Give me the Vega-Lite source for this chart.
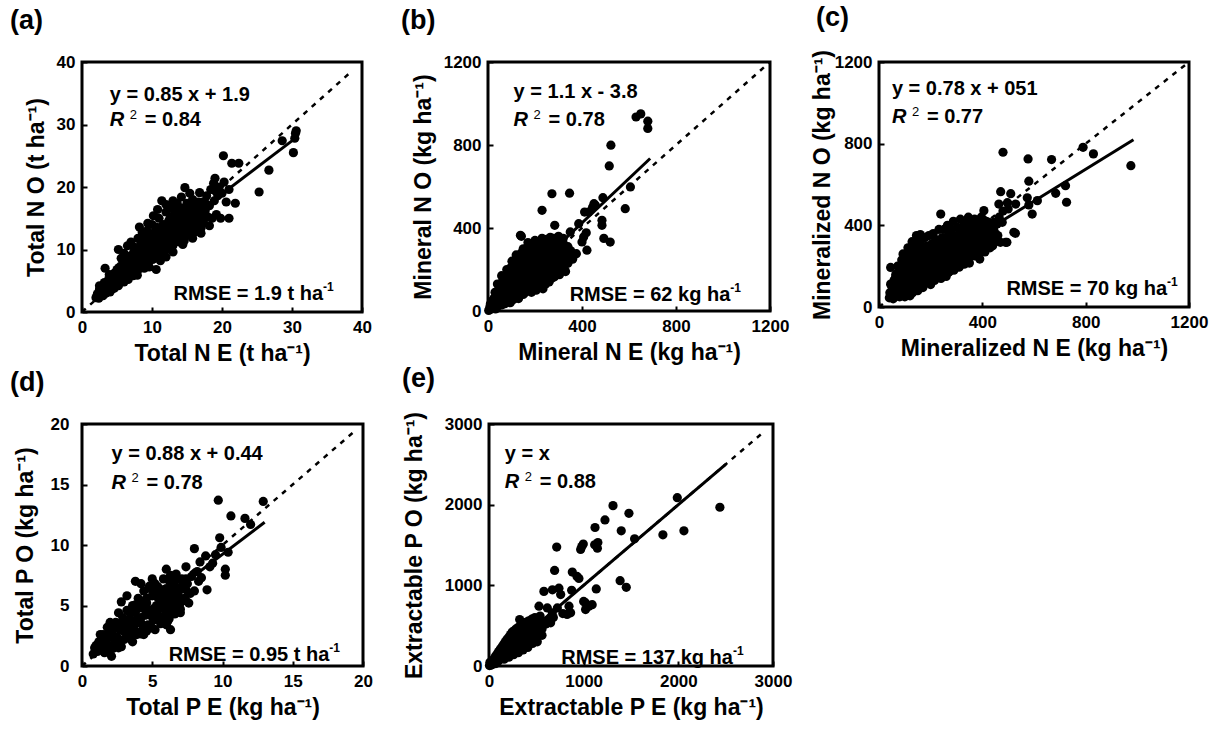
{
"$schema": "https://vega.github.io/schema/vega-lite/v6.json",
"background": "white",
"padding": {"left": 8, "top": 2, "right": 5, "bottom": 5},
"bounds": "flush",
"spacing": 362,
"config": {
  "font": "Liberation Sans",
  "view": {"stroke": "black", "strokeWidth": 3},
  "axis": {"domain": false, "grid": false, "ticks": true, "tickColor": "black", "tickWidth": 2, "tickSize": -5, "labelFont": "Liberation Sans", "labelFontSize": 17, "labelFontWeight": "bold", "labelColor": "black", "labelFlush": false, "labelOverlap": false, "labelPadding": 12, "format": "d", "titleFont": "Liberation Sans", "titleFontSize": 23, "titleFontWeight": "bold", "titleColor": "black"},
  "axisX": {"titlePadding": 7},
  "axisY": {"titlePadding": 8},
  "title": {"font": "Liberation Sans", "fontSize": 27, "fontWeight": "bold", "color": "black", "anchor": "start", "frame": "group", "offset": 18},
  "text": {"font": "Liberation Sans", "fontSize": 20, "fontWeight": "bold", "color": "black"}
},
"datasets": {
  "a": [
{"x":2.0,"y":2.3},{"x":2.2,"y":2.9},{"x":2.4,"y":2.2},{"x":2.5,"y":3.6},{"x":2.8,"y":2.8},{"x":2.9,"y":4.2},{"x":3.0,"y":3.3},{"x":3.2,"y":3.9},{"x":3.3,"y":7.0},{"x":3.5,"y":4.6},{"x":3.6,"y":3.2},{"x":3.8,"y":5.2},{"x":4.0,"y":4.0},{"x":4.2,"y":5.6},{"x":4.3,"y":3.7},{"x":4.5,"y":4.8},{"x":4.6,"y":6.2},{"x":4.8,"y":4.4},{"x":5.0,"y":5.4},{"x":5.0,"y":6.8},{"x":5.2,"y":10.0},{"x":5.3,"y":4.6},{"x":5.5,"y":6.0},{"x":5.6,"y":7.4},{"x":5.8,"y":5.2},{"x":6.0,"y":6.4},{"x":6.1,"y":8.2},{"x":6.3,"y":5.6},{"x":6.4,"y":7.2},{"x":6.5,"y":10.6},{"x":6.6,"y":8.8},{"x":6.8,"y":6.0},{"x":7.0,"y":11.2},{"x":7.0,"y":7.8},{"x":7.1,"y":6.6},{"x":7.3,"y":9.2},{"x":7.5,"y":7.0},{"x":7.6,"y":8.4},{"x":7.8,"y":10.0},{"x":7.9,"y":5.9},{"x":8.0,"y":7.4},{"x":8.2,"y":13.6},{"x":8.3,"y":9.0},{"x":8.4,"y":11.0},{"x":8.5,"y":8.0},{"x":8.7,"y":10.0},{"x":8.8,"y":12.0},{"x":8.9,"y":7.0},{"x":9.0,"y":9.0},{"x":9.2,"y":11.0},{"x":9.3,"y":13.0},{"x":9.4,"y":8.0},{"x":9.6,"y":10.0},{"x":9.7,"y":12.2},{"x":9.8,"y":9.0},{"x":10.0,"y":14.0},{"x":10.0,"y":11.0},{"x":10.1,"y":8.4},{"x":10.3,"y":12.6},{"x":10.4,"y":9.8},{"x":10.6,"y":6.8},{"x":10.6,"y":13.6},{"x":10.7,"y":11.4},{"x":10.9,"y":8.8},{"x":11.0,"y":15.0},{"x":11.1,"y":10.2},{"x":11.2,"y":12.4},{"x":11.4,"y":17.8},{"x":11.5,"y":9.6},{"x":11.6,"y":14.0},{"x":11.7,"y":11.2},{"x":11.9,"y":13.0},{"x":12.0,"y":16.0},{"x":12.1,"y":10.0},{"x":12.2,"y":12.0},{"x":12.4,"y":14.6},{"x":12.5,"y":11.0},{"x":12.7,"y":13.2},{"x":12.8,"y":16.6},{"x":12.9,"y":10.6},{"x":13.0,"y":12.2},{"x":13.2,"y":15.2},{"x":13.3,"y":13.8},{"x":13.4,"y":11.4},{"x":13.6,"y":17.4},{"x":13.7,"y":12.6},{"x":13.9,"y":15.0},{"x":14.0,"y":11.2},{"x":14.1,"y":14.2},{"x":14.2,"y":16.4},{"x":14.4,"y":10.8},{"x":14.5,"y":13.0},{"x":14.7,"y":19.9},{"x":14.8,"y":15.6},{"x":14.9,"y":12.2},{"x":15.0,"y":17.4},{"x":15.2,"y":14.2},{"x":15.3,"y":12.6},{"x":15.5,"y":16.2},{"x":15.6,"y":13.4},{"x":15.8,"y":18.0},{"x":16.0,"y":15.0},{"x":16.1,"y":12.8},{"x":16.3,"y":16.8},{"x":16.5,"y":14.0},{"x":16.8,"y":19.1},{"x":16.9,"y":15.6},{"x":17.0,"y":13.4},{"x":17.2,"y":17.6},{"x":17.4,"y":14.8},{"x":17.6,"y":16.2},{"x":17.8,"y":18.6},{"x":18.0,"y":15.2},{"x":18.2,"y":17.0},{"x":18.4,"y":19.6},{"x":18.6,"y":15.0},{"x":18.8,"y":20.6},{"x":18.9,"y":17.8},{"x":19.0,"y":21.4},{"x":19.2,"y":15.6},{"x":19.4,"y":18.6},{"x":19.6,"y":20.0},{"x":19.8,"y":15.0},{"x":20.0,"y":19.0},{"x":20.2,"y":25.0},{"x":20.3,"y":20.8},{"x":20.6,"y":17.6},{"x":21.0,"y":15.0},{"x":21.0,"y":19.6},{"x":21.4,"y":23.8},{"x":21.9,"y":17.4},{"x":22.4,"y":23.8},{"x":25.3,"y":19.2},{"x":26.7,"y":22.7},{"x":28.6,"y":27.4},{"x":30.2,"y":25.5},{"x":30.4,"y":27.8},{"x":30.5,"y":28.6},{"x":30.6,"y":29.0},
{"x":3.0,"y":2.6},{"x":3.4,"y":3.0},{"x":4.0,"y":3.2},{"x":4.6,"y":3.8},{"x":5.2,"y":4.2},{"x":6.0,"y":4.8},{"x":6.6,"y":5.2},{"x":7.3,"y":5.8},{"x":5.6,"y":8.6},{"x":6.0,"y":9.4},{"x":7.4,"y":10.4},{"x":8.0,"y":11.8},{"x":8.6,"y":12.8},{"x":9.4,"y":14.2},{"x":10.2,"y":15.4},{"x":10.8,"y":16.4},{"x":12.0,"y":17.2},{"x":13.0,"y":17.8},{"x":14.2,"y":18.4},{"x":15.4,"y":19.0},{"x":9.6,"y":7.2},{"x":11.2,"y":8.2},{"x":12.0,"y":8.8},{"x":13.0,"y":9.6},{"x":14.6,"y":11.4},{"x":15.8,"y":11.8},{"x":17.0,"y":12.6},{"x":18.2,"y":13.8},{"x":11.0,"y":13.4},{"x":12.6,"y":15.0},{"x":14.0,"y":15.2},{"x":15.2,"y":15.8},{"x":16.6,"y":17.6},{"x":17.8,"y":17.2},{"x":19.0,"y":19.4},
{"x":2.5,"y":3.4},{"x":2.5,"y":4.2},{"x":3.2,"y":3.1},{"x":3.2,"y":4.7},{"x":3.9,"y":3.6},{"x":3.9,"y":4.4},{"x":3.9,"y":6.0},{"x":4.6,"y":4.2},{"x":4.6,"y":5.0},{"x":4.6,"y":5.8},{"x":5.3,"y":4.7},{"x":5.3,"y":5.5},{"x":5.3,"y":6.3},{"x":5.3,"y":7.1},{"x":6.0,"y":5.3},{"x":6.0,"y":6.1},{"x":6.0,"y":6.9},{"x":6.0,"y":7.7},{"x":6.7,"y":5.8},{"x":6.7,"y":6.6},{"x":6.7,"y":7.4},{"x":6.7,"y":8.2},{"x":6.7,"y":8.9},{"x":7.4,"y":6.4},{"x":7.4,"y":7.2},{"x":7.4,"y":8.0},{"x":7.4,"y":8.8},{"x":7.4,"y":9.6},{"x":8.1,"y":6.9},{"x":8.1,"y":7.7},{"x":8.1,"y":8.5},{"x":8.1,"y":9.3},{"x":8.1,"y":10.1},{"x":8.8,"y":7.5},{"x":8.8,"y":8.3},{"x":8.8,"y":9.1},{"x":8.8,"y":9.9},{"x":8.8,"y":10.7},{"x":9.5,"y":8.0},{"x":9.5,"y":8.8},{"x":9.5,"y":9.6},{"x":9.5,"y":10.4},{"x":9.5,"y":11.2},{"x":9.5,"y":11.9},{"x":10.2,"y":8.6},{"x":10.2,"y":9.4},{"x":10.2,"y":10.2},{"x":10.2,"y":11.0},{"x":10.2,"y":11.8},{"x":10.2,"y":12.6},{"x":10.9,"y":9.1},{"x":10.9,"y":9.9},{"x":10.9,"y":10.7},{"x":10.9,"y":11.5},{"x":10.9,"y":12.3},{"x":10.9,"y":13.1},{"x":11.6,"y":9.6},{"x":11.6,"y":10.4},{"x":11.6,"y":11.2},{"x":11.6,"y":12.0},{"x":11.6,"y":12.8},{"x":11.6,"y":13.6},{"x":12.3,"y":10.2},{"x":12.3,"y":11.0},{"x":12.3,"y":11.8},{"x":12.3,"y":12.6},{"x":12.3,"y":13.4},{"x":12.3,"y":14.2},{"x":13.0,"y":10.7},{"x":13.0,"y":11.5},{"x":13.0,"y":12.3},{"x":13.0,"y":13.1},{"x":13.0,"y":13.9},{"x":13.0,"y":14.7},{"x":13.0,"y":15.4},{"x":13.7,"y":11.3},{"x":13.7,"y":12.1},{"x":13.7,"y":12.9},{"x":13.7,"y":13.7},{"x":13.7,"y":14.5},{"x":13.7,"y":15.3},{"x":13.7,"y":16.1},{"x":14.4,"y":11.8},{"x":14.4,"y":12.6},{"x":14.4,"y":13.4},{"x":14.4,"y":14.2},{"x":14.4,"y":15.0},{"x":14.4,"y":15.8},{"x":14.4,"y":16.6},{"x":15.1,"y":12.4},{"x":15.1,"y":13.2},{"x":15.1,"y":14.0},{"x":15.1,"y":14.8},{"x":15.1,"y":15.6},{"x":15.1,"y":16.4},{"x":15.1,"y":17.2},{"x":15.8,"y":12.9},{"x":15.8,"y":13.7},{"x":15.8,"y":14.5},{"x":15.8,"y":15.3},{"x":15.8,"y":16.1},{"x":15.8,"y":16.9},{"x":16.5,"y":13.8},{"x":16.5,"y":14.6},{"x":16.5,"y":15.4},{"x":16.5,"y":16.2},{"x":16.5,"y":17.0},{"x":17.2,"y":14.4},{"x":17.2,"y":15.2},{"x":17.2,"y":16.0},{"x":17.2,"y":16.8}
  ],
  "b": [
{"x":3,"y":3},{"x":8,"y":20},{"x":12,"y":8},{"x":15,"y":40},{"x":20,"y":15},{"x":25,"y":60},{"x":28,"y":30},{"x":32,"y":10},{"x":35,"y":85},{"x":38,"y":45},{"x":40,"y":130},{"x":45,"y":25},{"x":48,"y":70},{"x":52,"y":110},{"x":55,"y":45},{"x":58,"y":90},{"x":60,"y":140},{"x":65,"y":60},{"x":68,"y":115},{"x":70,"y":160},{"x":72,"y":35},{"x":75,"y":90},{"x":80,"y":135},{"x":82,"y":60},{"x":85,"y":180},{"x":88,"y":110},{"x":92,"y":75},{"x":95,"y":150},{"x":98,"y":210},{"x":100,"y":100},{"x":102,"y":240},{"x":105,"y":170},{"x":108,"y":55},{"x":110,"y":130},{"x":112,"y":195},{"x":115,"y":80},{"x":118,"y":150},{"x":120,"y":225},{"x":122,"y":105},{"x":125,"y":175},{"x":128,"y":260},{"x":130,"y":125},{"x":133,"y":200},{"x":136,"y":90},{"x":138,"y":365},{"x":140,"y":150},{"x":142,"y":280},{"x":145,"y":230},{"x":148,"y":110},{"x":150,"y":180},{"x":152,"y":255},{"x":155,"y":135},{"x":158,"y":210},{"x":160,"y":300},{"x":162,"y":160},{"x":165,"y":100},{"x":168,"y":240},{"x":170,"y":190},{"x":170,"y":330},{"x":172,"y":270},{"x":175,"y":140},{"x":178,"y":220},{"x":180,"y":310},{"x":182,"y":170},{"x":185,"y":250},{"x":188,"y":120},{"x":190,"y":200},{"x":192,"y":290},{"x":195,"y":150},{"x":198,"y":230},{"x":200,"y":320},{"x":200,"y":340},{"x":202,"y":180},{"x":205,"y":265},{"x":208,"y":130},{"x":210,"y":210},{"x":212,"y":300},{"x":215,"y":160},{"x":218,"y":240},{"x":220,"y":330},{"x":222,"y":190},{"x":225,"y":275},{"x":228,"y":140},{"x":230,"y":225},{"x":232,"y":310},{"x":234,"y":107},{"x":235,"y":175},{"x":238,"y":260},{"x":240,"y":205},{"x":242,"y":320},{"x":245,"y":150},{"x":248,"y":240},{"x":250,"y":290},{"x":250,"y":345},{"x":252,"y":185},{"x":255,"y":220},{"x":258,"y":330},{"x":260,"y":170},{"x":262,"y":265},{"x":265,"y":300},{"x":268,"y":200},{"x":270,"y":245},{"x":272,"y":565},{"x":275,"y":320},{"x":278,"y":190},{"x":280,"y":270},{"x":280,"y":350},{"x":282,"y":230},{"x":284,"y":413},{"x":285,"y":300},{"x":288,"y":210},{"x":290,"y":250},{"x":294,"y":320},{"x":296,"y":200},{"x":300,"y":280},{"x":300,"y":360},{"x":302,"y":240},{"x":306,"y":310},{"x":310,"y":215},{"x":314,"y":260},{"x":318,"y":330},{"x":320,"y":290},{"x":320,"y":350},{"x":325,"y":240},{"x":330,"y":300},{"x":330,"y":190},{"x":335,"y":270},{"x":340,"y":310},{"x":340,"y":230},{"x":345,"y":250},{"x":347,"y":568},{"x":350,"y":381},{"x":352,"y":290},{"x":360,"y":250},{"x":365,"y":268},{"x":376,"y":276},{"x":386,"y":421},{"x":400,"y":333},{"x":407,"y":357},{"x":411,"y":477},{"x":418,"y":377},{"x":421,"y":293},{"x":428,"y":477},{"x":445,"y":500},{"x":451,"y":517},{"x":457,"y":509},{"x":485,"y":437},{"x":485,"y":413},{"x":489,"y":546},{"x":493,"y":350},{"x":520,"y":332},{"x":516,"y":699},{"x":523,"y":799},{"x":584,"y":493},{"x":606,"y":598},{"x":630,"y":935},{"x":650,"y":950},{"x":680,"y":915},{"x":680,"y":880},{"x":142,"y":360},{"x":230,"y":485},
{"x":20,"y":50},{"x":30,"y":90},{"x":45,"y":100},{"x":60,"y":30},{"x":78,"y":45},{"x":95,"y":40},{"x":110,"y":70},{"x":130,"y":60},{"x":150,"y":80},{"x":165,"y":150},{"x":185,"y":90},{"x":205,"y":100},{"x":220,"y":120},{"x":245,"y":130},{"x":260,"y":140},{"x":275,"y":160},{"x":290,"y":175},{"x":305,"y":185},{"x":120,"y":270},{"x":150,"y":300},{"x":185,"y":325},{"x":230,"y":350},{"x":265,"y":355},{"x":58,"y":170},{"x":80,"y":200},{"x":100,"y":60},
{"x":10,"y":34},{"x":31,"y":20},{"x":31,"y":44},{"x":31,"y":68},{"x":52,"y":30},{"x":52,"y":54},{"x":52,"y":78},{"x":73,"y":42},{"x":73,"y":66},{"x":73,"y":114},{"x":94,"y":55},{"x":94,"y":79},{"x":94,"y":103},{"x":94,"y":127},{"x":115,"y":65},{"x":115,"y":113},{"x":115,"y":137},{"x":115,"y":161},{"x":115,"y":182},{"x":136,"y":78},{"x":136,"y":126},{"x":136,"y":174},{"x":136,"y":198},{"x":157,"y":88},{"x":157,"y":112},{"x":157,"y":160},{"x":157,"y":184},{"x":157,"y":232},{"x":178,"y":100},{"x":178,"y":124},{"x":178,"y":148},{"x":178,"y":172},{"x":178,"y":196},{"x":178,"y":244},{"x":199,"y":112},{"x":199,"y":160},{"x":199,"y":184},{"x":199,"y":208},{"x":199,"y":256},{"x":199,"y":280},{"x":220,"y":148},{"x":220,"y":172},{"x":220,"y":220},{"x":220,"y":268},{"x":220,"y":292},{"x":220,"y":312},{"x":241,"y":136},{"x":241,"y":160},{"x":241,"y":184},{"x":241,"y":232},{"x":241,"y":280},{"x":241,"y":304},{"x":262,"y":150},{"x":262,"y":198},{"x":262,"y":222},{"x":262,"y":246},{"x":262,"y":294},{"x":262,"y":318},{"x":283,"y":165},{"x":283,"y":189},{"x":283,"y":213},{"x":283,"y":261},{"x":283,"y":285},{"x":283,"y":320},{"x":304,"y":175},{"x":304,"y":199},{"x":304,"y":223},{"x":304,"y":271},{"x":304,"y":295},{"x":325,"y":200},{"x":325,"y":224},{"x":325,"y":272},{"x":325,"y":318}
  ],
  "c": [
{"x":40,"y":45},{"x":42,"y":70},{"x":45,"y":194},{"x":48,"y":55},{"x":50,"y":100},{"x":55,"y":40},{"x":58,"y":130},{"x":60,"y":75},{"x":62,"y":50},{"x":65,"y":160},{"x":68,"y":100},{"x":70,"y":60},{"x":72,"y":200},{"x":75,"y":130},{"x":78,"y":85},{"x":80,"y":50},{"x":82,"y":170},{"x":85,"y":110},{"x":88,"y":230},{"x":90,"y":70},{"x":93,"y":260},{"x":95,"y":150},{"x":98,"y":100},{"x":100,"y":200},{"x":100,"y":50},{"x":103,"y":130},{"x":105,"y":240},{"x":108,"y":80},{"x":110,"y":170},{"x":112,"y":290},{"x":115,"y":120},{"x":118,"y":210},{"x":120,"y":95},{"x":120,"y":55},{"x":123,"y":260},{"x":125,"y":150},{"x":128,"y":320},{"x":130,"y":190},{"x":132,"y":110},{"x":135,"y":240},{"x":138,"y":160},{"x":140,"y":290},{"x":142,"y":130},{"x":145,"y":350},{"x":148,"y":210},{"x":150,"y":100},{"x":150,"y":80},{"x":152,"y":260},{"x":155,"y":175},{"x":158,"y":320},{"x":160,"y":355},{"x":162,"y":140},{"x":165,"y":230},{"x":168,"y":290},{"x":170,"y":190},{"x":172,"y":120},{"x":175,"y":260},{"x":178,"y":340},{"x":180,"y":210},{"x":182,"y":160},{"x":185,"y":300},{"x":188,"y":240},{"x":190,"y":120},{"x":193,"y":350},{"x":195,"y":190},{"x":198,"y":270},{"x":200,"y":220},{"x":200,"y":110},{"x":202,"y":160},{"x":205,"y":310},{"x":208,"y":250},{"x":210,"y":360},{"x":212,"y":190},{"x":215,"y":280},{"x":218,"y":230},{"x":220,"y":330},{"x":222,"y":160},{"x":225,"y":260},{"x":228,"y":300},{"x":230,"y":200},{"x":232,"y":380},{"x":235,"y":240},{"x":238,"y":310},{"x":239,"y":455},{"x":240,"y":180},{"x":243,"y":270},{"x":245,"y":340},{"x":248,"y":220},{"x":250,"y":300},{"x":252,"y":380},{"x":255,"y":250},{"x":258,"y":190},{"x":260,"y":150},{"x":260,"y":320},{"x":262,"y":280},{"x":265,"y":400},{"x":268,"y":230},{"x":270,"y":350},{"x":273,"y":300},{"x":275,"y":200},{"x":278,"y":260},{"x":280,"y":380},{"x":283,"y":320},{"x":285,"y":240},{"x":288,"y":420},{"x":290,"y":290},{"x":293,"y":350},{"x":295,"y":210},{"x":298,"y":310},{"x":300,"y":260},{"x":303,"y":390},{"x":305,"y":330},{"x":308,"y":228},{"x":310,"y":290},{"x":310,"y":195},{"x":313,"y":360},{"x":315,"y":430},{"x":318,"y":260},{"x":320,"y":320},{"x":323,"y":380},{"x":325,"y":280},{"x":328,"y":340},{"x":330,"y":410},{"x":333,"y":300},{"x":336,"y":250},{"x":340,"y":360},{"x":343,"y":320},{"x":346,"y":440},{"x":350,"y":290},{"x":350,"y":215},{"x":353,"y":380},{"x":356,"y":340},{"x":360,"y":400},{"x":363,"y":310},{"x":366,"y":360},{"x":370,"y":430},{"x":373,"y":330},{"x":376,"y":280},{"x":380,"y":380},{"x":383,"y":350},{"x":386,"y":410},{"x":390,"y":300},{"x":390,"y":235},{"x":393,"y":370},{"x":396,"y":440},{"x":400,"y":340},{"x":405,"y":390},{"x":410,"y":360},{"x":406,"y":472},{"x":415,"y":420},{"x":420,"y":320},{"x":425,"y":380},{"x":430,"y":405},{"x":430,"y":290},{"x":435,"y":350},{"x":440,"y":390},{"x":445,"y":415},{"x":450,"y":360},{"x":450,"y":320},{"x":457,"y":406},{"x":464,"y":504},{"x":470,"y":317},{"x":471,"y":565},{"x":477,"y":415},{"x":480,"y":758},{"x":490,"y":317},{"x":495,"y":317},{"x":497,"y":511},{"x":510,"y":555},{"x":522,"y":366},{"x":528,"y":361},{"x":529,"y":504},{"x":574,"y":535},{"x":577,"y":725},{"x":580,"y":616},{"x":580,"y":500},{"x":593,"y":455},{"x":613,"y":521},{"x":668,"y":722},{"x":684,"y":557},{"x":722,"y":594},{"x":726,"y":513},{"x":790,"y":782},{"x":830,"y":750},{"x":975,"y":692},
{"x":55,"y":90},{"x":70,"y":140},{"x":85,"y":60},{"x":110,"y":60},{"x":130,"y":70},{"x":170,"y":95},{"x":185,"y":140},{"x":215,"y":130},{"x":240,"y":140},{"x":270,"y":170},{"x":290,"y":180},{"x":330,"y":210},{"x":370,"y":250},{"x":410,"y":270},{"x":440,"y":300},{"x":460,"y":350},{"x":465,"y":440},{"x":480,"y":470},{"x":500,"y":480},
{"x":45,"y":64},{"x":45,"y":112},{"x":64,"y":74},{"x":64,"y":122},{"x":64,"y":146},{"x":83,"y":62},{"x":83,"y":134},{"x":83,"y":158},{"x":102,"y":74},{"x":102,"y":98},{"x":102,"y":146},{"x":102,"y":170},{"x":121,"y":110},{"x":121,"y":134},{"x":121,"y":182},{"x":140,"y":96},{"x":140,"y":120},{"x":140,"y":168},{"x":140,"y":192},{"x":140,"y":216},{"x":159,"y":108},{"x":159,"y":156},{"x":159,"y":180},{"x":159,"y":204},{"x":159,"y":250},{"x":178,"y":144},{"x":178,"y":168},{"x":178,"y":192},{"x":178,"y":240},{"x":197,"y":130},{"x":197,"y":154},{"x":197,"y":202},{"x":197,"y":226},{"x":197,"y":250},{"x":216,"y":142},{"x":216,"y":166},{"x":216,"y":214},{"x":216,"y":262},{"x":216,"y":300},{"x":235,"y":154},{"x":235,"y":202},{"x":235,"y":226},{"x":235,"y":274},{"x":235,"y":298},{"x":254,"y":165},{"x":254,"y":213},{"x":254,"y":237},{"x":254,"y":261},{"x":254,"y":309},{"x":254,"y":333},{"x":273,"y":176},{"x":273,"y":224},{"x":273,"y":248},{"x":273,"y":272},{"x":273,"y":320},{"x":292,"y":188},{"x":292,"y":236},{"x":292,"y":260},{"x":292,"y":308},{"x":292,"y":332},{"x":311,"y":200},{"x":311,"y":224},{"x":311,"y":248},{"x":311,"y":272},{"x":311,"y":344},{"x":311,"y":386},{"x":330,"y":234},{"x":330,"y":258},{"x":330,"y":282},{"x":330,"y":354},{"x":330,"y":378},{"x":349,"y":246},{"x":349,"y":270},{"x":349,"y":318},{"x":349,"y":342},{"x":349,"y":414},{"x":368,"y":258},{"x":368,"y":306},{"x":368,"y":354},{"x":368,"y":402},{"x":387,"y":269},{"x":387,"y":317},{"x":387,"y":341},{"x":387,"y":389},{"x":406,"y":282},{"x":406,"y":306},{"x":406,"y":330},{"x":406,"y":425},{"x":425,"y":294},{"x":425,"y":342},{"x":425,"y":414},{"x":444,"y":330},{"x":444,"y":354},{"x":444,"y":378}
  ],
  "d": [
{"x":0.8,"y":1.0},{"x":0.9,"y":1.5},{"x":1.1,"y":1.2},{"x":1.2,"y":2.0},{"x":1.4,"y":1.5},{"x":1.5,"y":2.6},{"x":1.6,"y":1.1},{"x":1.7,"y":2.0},{"x":1.8,"y":3.2},{"x":1.9,"y":1.5},{"x":2.0,"y":2.4},{"x":2.1,"y":0.8},{"x":2.2,"y":3.0},{"x":2.3,"y":1.8},{"x":2.4,"y":3.6},{"x":2.5,"y":2.4},{"x":2.6,"y":1.5},{"x":2.7,"y":3.0},{"x":2.8,"y":5.3},{"x":2.9,"y":4.0},{"x":3.0,"y":2.2},{"x":3.1,"y":3.4},{"x":3.2,"y":4.6},{"x":3.3,"y":2.8},{"x":3.4,"y":3.9},{"x":3.5,"y":2.2},{"x":3.6,"y":5.0},{"x":3.7,"y":3.3},{"x":3.8,"y":7.0},{"x":3.8,"y":4.4},{"x":3.9,"y":2.6},{"x":4.0,"y":5.6},{"x":4.1,"y":3.6},{"x":4.2,"y":4.8},{"x":4.3,"y":3.0},{"x":4.4,"y":6.2},{"x":4.5,"y":4.2},{"x":4.6,"y":5.2},{"x":4.7,"y":3.4},{"x":4.8,"y":6.6},{"x":4.9,"y":4.6},{"x":5.0,"y":5.8},{"x":5.1,"y":3.8},{"x":5.2,"y":6.8},{"x":5.3,"y":5.0},{"x":5.4,"y":4.2},{"x":5.5,"y":6.2},{"x":5.6,"y":3.5},{"x":5.7,"y":5.4},{"x":5.8,"y":7.2},{"x":5.9,"y":4.6},{"x":6.0,"y":6.4},{"x":6.1,"y":3.7},{"x":6.2,"y":5.6},{"x":6.3,"y":3.0},{"x":6.3,"y":7.5},{"x":6.4,"y":4.8},{"x":6.5,"y":6.6},{"x":6.6,"y":5.6},{"x":6.7,"y":7.6},{"x":6.8,"y":4.6},{"x":6.9,"y":6.2},{"x":7.0,"y":5.2},{"x":7.1,"y":7.2},{"x":7.2,"y":6.6},{"x":7.3,"y":5.6},{"x":7.4,"y":8.2},{"x":7.5,"y":6.8},{"x":7.7,"y":6.0},{"x":7.8,"y":7.4},{"x":8.0,"y":9.7},{"x":8.0,"y":6.2},{"x":8.2,"y":7.8},{"x":8.3,"y":7.0},{"x":8.5,"y":7.3},{"x":8.8,"y":9.1},{"x":8.9,"y":6.3},{"x":9.1,"y":8.2},{"x":9.3,"y":8.5},{"x":9.7,"y":13.7},{"x":9.8,"y":10.6},{"x":9.9,"y":9.8},{"x":10.2,"y":8.0},{"x":10.2,"y":7.5},{"x":10.4,"y":9.4},{"x":10.6,"y":12.4},{"x":11.6,"y":12.2},{"x":12.0,"y":11.7},{"x":12.9,"y":13.6},
{"x":1.3,"y":2.6},{"x":2.0,"y":3.6},{"x":2.6,"y":4.4},{"x":3.2,"y":5.8},{"x":4.2,"y":6.8},{"x":5.0,"y":7.2},{"x":2.8,"y":1.6},{"x":3.6,"y":2.0},{"x":4.4,"y":2.6},{"x":5.2,"y":3.0},{"x":6.0,"y":3.4},{"x":7.0,"y":4.4},{"x":7.6,"y":5.2},{"x":8.4,"y":8.6},{"x":9.5,"y":9.2},{"x":6.0,"y":8.0},
{"x":1.0,"y":1.7},{"x":1.4,"y":1.9},{"x":1.4,"y":2.35},{"x":1.8,"y":1.2},{"x":1.8,"y":2.55},{"x":2.2,"y":1.45},{"x":2.2,"y":2.35},{"x":2.6,"y":2.15},{"x":2.6,"y":3.5},{"x":3.0,"y":2.85},{"x":3.0,"y":3.75},{"x":3.4,"y":2.65},{"x":3.4,"y":3.1},{"x":3.4,"y":4.45},{"x":3.8,"y":2.85},{"x":3.8,"y":3.75},{"x":3.8,"y":5.05},{"x":4.2,"y":2.65},{"x":4.2,"y":3.55},{"x":4.2,"y":4.0},{"x":4.2,"y":5.35},{"x":4.6,"y":2.9},{"x":4.6,"y":4.25},{"x":4.6,"y":4.7},{"x":4.6,"y":5.6},{"x":5.0,"y":3.15},{"x":5.0,"y":4.05},{"x":5.0,"y":4.5},{"x":5.0,"y":6.25},{"x":5.4,"y":3.85},{"x":5.4,"y":4.75},{"x":5.4,"y":5.65},{"x":5.4,"y":6.55},{"x":5.8,"y":4.05},{"x":5.8,"y":4.95},{"x":5.8,"y":5.85},{"x":5.8,"y":6.3},{"x":6.2,"y":3.9},{"x":6.2,"y":4.35},{"x":6.2,"y":5.25},{"x":6.2,"y":6.15},{"x":6.2,"y":7.05},{"x":6.6,"y":4.3},{"x":6.6,"y":5.2},{"x":6.6,"y":6.1},{"x":6.6,"y":7.0},{"x":7.0,"y":4.7},{"x":7.0,"y":5.6},{"x":7.0,"y":6.5},{"x":7.4,"y":5.4},{"x":7.4,"y":6.3},{"x":7.4,"y":7.2}
  ],
  "e": [
{"x":5,"y":5},{"x":15,"y":25},{"x":20,"y":10},{"x":28,"y":45},{"x":35,"y":20},{"x":40,"y":65},{"x":48,"y":35},{"x":55,"y":90},{"x":60,"y":50},{"x":68,"y":120},{"x":72,"y":30},{"x":78,"y":75},{"x":85,"y":150},{"x":90,"y":100},{"x":95,"y":55},{"x":102,"y":180},{"x":108,"y":125},{"x":112,"y":80},{"x":120,"y":210},{"x":125,"y":150},{"x":130,"y":100},{"x":138,"y":240},{"x":142,"y":175},{"x":148,"y":120},{"x":155,"y":270},{"x":160,"y":200},{"x":165,"y":140},{"x":172,"y":300},{"x":178,"y":230},{"x":182,"y":160},{"x":190,"y":330},{"x":195,"y":260},{"x":200,"y":190},{"x":205,"y":120},{"x":210,"y":360},{"x":215,"y":280},{"x":220,"y":210},{"x":228,"y":390},{"x":232,"y":310},{"x":238,"y":230},{"x":245,"y":420},{"x":250,"y":330},{"x":255,"y":250},{"x":262,"y":170},{"x":268,"y":440},{"x":272,"y":360},{"x":278,"y":280},{"x":285,"y":460},{"x":290,"y":380},{"x":295,"y":300},{"x":302,"y":220},{"x":310,"y":480},{"x":318,"y":400},{"x":324,"y":576},{"x":328,"y":320},{"x":335,"y":500},{"x":342,"y":420},{"x":350,"y":340},{"x":358,"y":260},{"x":365,"y":520},{"x":372,"y":440},{"x":380,"y":360},{"x":390,"y":540},{"x":398,"y":460},{"x":405,"y":380},{"x":415,"y":300},{"x":420,"y":560},{"x":430,"y":480},{"x":440,"y":400},{"x":452,"y":580},{"x":460,"y":500},{"x":470,"y":420},{"x":485,"y":600},{"x":495,"y":520},{"x":500,"y":440},{"x":510,"y":300},{"x":530,"y":540},{"x":540,"y":620},{"x":560,"y":460},{"x":528,"y":741},{"x":580,"y":925},{"x":600,"y":520},{"x":616,"y":720},{"x":640,"y":580},{"x":651,"y":535},{"x":669,"y":660},{"x":670,"y":945},{"x":680,"y":600},{"x":693,"y":1185},{"x":715,"y":1475},{"x":722,"y":720},{"x":739,"y":965},{"x":757,"y":885},{"x":780,"y":650},{"x":825,"y":640},{"x":845,"y":741},{"x":862,"y":659},{"x":873,"y":939},{"x":880,"y":1165},{"x":930,"y":1110},{"x":950,"y":1085},{"x":968,"y":1445},{"x":980,"y":1480},{"x":996,"y":1511},{"x":1000,"y":800},{"x":1020,"y":782},{"x":1020,"y":700},{"x":1056,"y":741},{"x":1090,"y":760},{"x":1116,"y":1503},{"x":1133,"y":955},{"x":1145,"y":1460},{"x":1150,"y":1530},{"x":1120,"y":1717},{"x":1225,"y":1811},{"x":1310,"y":1988},{"x":1385,"y":1058},{"x":1397,"y":1676},{"x":1450,"y":975},{"x":1478,"y":1893},{"x":1538,"y":1577},{"x":1837,"y":1626},{"x":1989,"y":2087},{"x":2059,"y":1676},{"x":2439,"y":1968},
{"x":10,"y":45},{"x":60,"y":95},{"x":110,"y":160},{"x":160,"y":85},{"x":160,"y":145},{"x":210,"y":110},{"x":210,"y":230},{"x":260,"y":140},{"x":260,"y":210},{"x":260,"y":320},{"x":310,"y":165},{"x":310,"y":240},{"x":310,"y":360},{"x":360,"y":200},{"x":360,"y":300},{"x":360,"y":400},{"x":410,"y":230},{"x":410,"y":350},{"x":410,"y":470},{"x":460,"y":280},{"x":460,"y":380},{"x":460,"y":450},{"x":510,"y":360},{"x":510,"y":480},{"x":560,"y":380},{"x":560,"y":520}
  ]
},
"vconcat": [
 {"hconcat": [
  {"width": 280, "height": 250,
   "title": {"text": "(a)", "dx": -72},
   "encoding": {
     "x": {"field": "x", "type": "quantitative", "scale": {"domain": [0, 40], "nice": false}, "axis": {"title": "Total N E (t ha⁻¹)", "values": [0, 10, 20, 30, 40]}},
     "y": {"field": "y", "type": "quantitative", "scale": {"domain": [0, 40], "nice": false}, "axis": {"title": "Total N O (t ha⁻¹)", "values": [0, 10, 20, 30, 40]}}
   },
   "layer": [
     {"data": {"name": "a"}, "mark": {"type": "circle", "size": 85, "opacity": 1, "color": "black"}},
     {"data": {"values": [{"x": 0, "y": 0}, {"x": 38.5, "y": 38.5}]}, "mark": {"type": "line", "color": "black", "strokeWidth": 2.5, "strokeDash": [5, 6]}},
     {"data": {"values": [{"x": 2, "y": 3.6}, {"x": 30.6, "y": 27.9}]}, "mark": {"type": "line", "color": "black", "strokeWidth": 3}},
     {"data": {"values": [{"x": 3.96, "y": 34.8, "t": "y = 0.85 x + 1.9"}]}, "mark": {"type": "text", "align": "left"}, "encoding": {"text": {"field": "t"}}},
     {"data": {"values": [{"x": 3.96, "y": 30.8, "r": "R", "s": "2", "v": "= 0.84"}]}, "mark": {"type": "text", "align": "left", "fontStyle": "italic"}, "encoding": {"text": {"field": "r"}}},
     {"data": {"values": [{"x": 3.96, "y": 30.8, "r": "R", "s": "2", "v": "= 0.84"}]}, "mark": {"type": "text", "align": "left", "fontSize": 13, "fontWeight": "normal", "dx": 20, "dy": -5}, "encoding": {"text": {"field": "s"}}},
     {"data": {"values": [{"x": 3.96, "y": 30.8, "r": "R", "s": "2", "v": "= 0.84"}]}, "mark": {"type": "text", "align": "left", "dx": 35}, "encoding": {"text": {"field": "v"}}},
     {"data": {"values": [{"x": 34.43, "y": 2.83, "t": "RMSE = 1.9 t ha", "s": "-1"}]}, "mark": {"type": "text", "align": "right"}, "encoding": {"text": {"field": "t"}}},
     {"data": {"values": [{"x": 34.43, "y": 2.83, "t": "RMSE = 1.9 t ha", "s": "-1"}]}, "mark": {"type": "text", "align": "left", "fontSize": 12, "dy": -7}, "encoding": {"text": {"field": "s"}}}
   ]
  },
  {"hconcat": [
   {"width": 282, "height": 249,
    "title": {"text": "(b)", "dx": -87},
    "encoding": {
      "x": {"field": "x", "type": "quantitative", "scale": {"domain": [0, 1200], "nice": false}, "axis": {"title": "Mineral N E (kg ha⁻¹)", "values": [0, 400, 800, 1200]}},
      "y": {"field": "y", "type": "quantitative", "scale": {"domain": [0, 1200], "nice": false}, "axis": {"title": "Mineral N O (kg ha⁻¹)", "values": [0, 400, 800, 1200]}}
    },
    "layer": [
      {"data": {"name": "b"}, "mark": {"type": "circle", "size": 85, "opacity": 1, "color": "black"}},
      {"data": {"values": [{"x": 0, "y": 0}, {"x": 1195, "y": 1195}]}, "mark": {"type": "line", "color": "black", "strokeWidth": 2.5, "strokeDash": [5, 6]}},
      {"data": {"values": [{"x": 5, "y": 2}, {"x": 690, "y": 735}]}, "mark": {"type": "line", "color": "black", "strokeWidth": 3}},
      {"data": {"values": [{"x": 109, "y": 1056, "t": "y = 1.1 x - 3.8"}]}, "mark": {"type": "text", "align": "left"}, "encoding": {"text": {"field": "t"}}},
      {"data": {"values": [{"x": 109, "y": 919, "r": "R", "s": "2", "v": "= 0.78"}]}, "mark": {"type": "text", "align": "left", "fontStyle": "italic"}, "encoding": {"text": {"field": "r"}}},
      {"data": {"values": [{"x": 109, "y": 919, "r": "R", "s": "2", "v": "= 0.78"}]}, "mark": {"type": "text", "align": "left", "fontSize": 13, "fontWeight": "normal", "dx": 20, "dy": -5}, "encoding": {"text": {"field": "s"}}},
      {"data": {"values": [{"x": 109, "y": 919, "r": "R", "s": "2", "v": "= 0.78"}]}, "mark": {"type": "text", "align": "left", "dx": 35}, "encoding": {"text": {"field": "v"}}},
      {"data": {"values": [{"x": 1031, "y": 76, "t": "RMSE = 62 kg ha", "s": "-1"}]}, "mark": {"type": "text", "align": "right"}, "encoding": {"text": {"field": "t"}}},
      {"data": {"values": [{"x": 1031, "y": 76, "t": "RMSE = 62 kg ha", "s": "-1"}]}, "mark": {"type": "text", "align": "left", "fontSize": 12, "dy": -7}, "encoding": {"text": {"field": "s"}}}
    ]
   },
   {"width": 310, "height": 245,
    "title": {"text": "(c)", "dx": -63},
    "encoding": {
      "x": {"field": "x", "type": "quantitative", "scale": {"domain": [0, 1200], "nice": false}, "axis": {"title": "Mineralized N E (kg ha⁻¹)", "values": [0, 400, 800, 1200]}},
      "y": {"field": "y", "type": "quantitative", "scale": {"domain": [0, 1200], "nice": false}, "axis": {"title": "Mineralized N O (kg ha⁻¹)", "values": [0, 400, 800, 1200], "titlePadding": 0}}
    },
    "layer": [
      {"data": {"name": "c"}, "mark": {"type": "circle", "size": 85, "opacity": 1, "color": "black"}},
      {"data": {"values": [{"x": 0, "y": 0}, {"x": 1195, "y": 1195}]}, "mark": {"type": "line", "color": "black", "strokeWidth": 2.5, "strokeDash": [5, 6]}},
      {"data": {"values": [{"x": 40, "y": 82}, {"x": 985, "y": 819}]}, "mark": {"type": "line", "color": "black", "strokeWidth": 3}},
      {"data": {"values": [{"x": 50, "y": 1068, "t": "y = 0.78 x + 051"}]}, "mark": {"type": "text", "align": "left"}, "encoding": {"text": {"field": "t"}}},
      {"data": {"values": [{"x": 50, "y": 929, "r": "R", "s": "2", "v": "= 0.77"}]}, "mark": {"type": "text", "align": "left", "fontStyle": "italic"}, "encoding": {"text": {"field": "r"}}},
      {"data": {"values": [{"x": 50, "y": 929, "r": "R", "s": "2", "v": "= 0.77"}]}, "mark": {"type": "text", "align": "left", "fontSize": 13, "fontWeight": "normal", "dx": 20, "dy": -5}, "encoding": {"text": {"field": "s"}}},
      {"data": {"values": [{"x": 50, "y": 929, "r": "R", "s": "2", "v": "= 0.77"}]}, "mark": {"type": "text", "align": "left", "dx": 35}, "encoding": {"text": {"field": "v"}}},
      {"data": {"values": [{"x": 1115, "y": 88, "t": "RMSE = 70 kg ha", "s": "-1"}]}, "mark": {"type": "text", "align": "right"}, "encoding": {"text": {"field": "t"}}},
      {"data": {"values": [{"x": 1115, "y": 88, "t": "RMSE = 70 kg ha", "s": "-1"}]}, "mark": {"type": "text", "align": "left", "fontSize": 12, "dy": -7}, "encoding": {"text": {"field": "s"}}}
    ]
   }
  ], "spacing": 109, "bounds": "flush"}
 ], "spacing": 126, "bounds": "flush"},
 {"hconcat": [
  {"width": 281, "height": 242,
   "title": {"text": "(d)", "dx": -72},
   "encoding": {
     "x": {"field": "x", "type": "quantitative", "scale": {"domain": [0, 20], "nice": false}, "axis": {"title": "Total P E (kg ha⁻¹)", "values": [0, 5, 10, 15, 20]}},
     "y": {"field": "y", "type": "quantitative", "scale": {"domain": [0, 20], "nice": false}, "axis": {"title": "Total P O (kg ha⁻¹)", "values": [0, 5, 10, 15, 20], "labelPadding": 18, "titlePadding": 13}}
   },
   "layer": [
     {"data": {"name": "d"}, "mark": {"type": "circle", "size": 85, "opacity": 1, "color": "black"}},
     {"data": {"values": [{"x": 0, "y": 0}, {"x": 19.4, "y": 19.4}]}, "mark": {"type": "line", "color": "black", "strokeWidth": 2.5, "strokeDash": [5, 6]}},
     {"data": {"values": [{"x": 0.8, "y": 1.14}, {"x": 13, "y": 11.88}]}, "mark": {"type": "line", "color": "black", "strokeWidth": 3}},
     {"data": {"values": [{"x": 2.1, "y": 17.5, "t": "y = 0.88 x + 0.44"}]}, "mark": {"type": "text", "align": "left"}, "encoding": {"text": {"field": "t"}}},
     {"data": {"values": [{"x": 2.1, "y": 15.1, "r": "R", "s": "2", "v": "= 0.78"}]}, "mark": {"type": "text", "align": "left", "fontStyle": "italic"}, "encoding": {"text": {"field": "r"}}},
     {"data": {"values": [{"x": 2.1, "y": 15.1, "r": "R", "s": "2", "v": "= 0.78"}]}, "mark": {"type": "text", "align": "left", "fontSize": 13, "fontWeight": "normal", "dx": 20, "dy": -5}, "encoding": {"text": {"field": "s"}}},
     {"data": {"values": [{"x": 2.1, "y": 15.1, "r": "R", "s": "2", "v": "= 0.78"}]}, "mark": {"type": "text", "align": "left", "dx": 35}, "encoding": {"text": {"field": "v"}}},
     {"data": {"values": [{"x": 17.6, "y": 0.94, "t": "RMSE = 0.95 t ha", "s": "-1"}]}, "mark": {"type": "text", "align": "right"}, "encoding": {"text": {"field": "t"}}},
     {"data": {"values": [{"x": 17.6, "y": 0.94, "t": "RMSE = 0.95 t ha", "s": "-1"}]}, "mark": {"type": "text", "align": "left", "fontSize": 12, "dy": -7}, "encoding": {"text": {"field": "s"}}}
   ]
  },
  {"width": 284, "height": 242,
   "title": {"text": "(e)", "dx": -87},
   "encoding": {
     "x": {"field": "x", "type": "quantitative", "scale": {"domain": [0, 3000], "nice": false}, "axis": {"title": "Extractable P E (kg ha⁻¹)", "values": [0, 1000, 2000, 3000]}},
     "y": {"field": "y", "type": "quantitative", "scale": {"domain": [0, 3000], "nice": false}, "axis": {"title": "Extractable P O (kg ha⁻¹)", "values": [0, 1000, 2000, 3000], "titlePadding": 18}}
   },
   "layer": [
     {"data": {"name": "e"}, "mark": {"type": "circle", "size": 85, "opacity": 1, "color": "black"}},
     {"data": {"values": [{"x": 0, "y": 0}, {"x": 2880, "y": 2880}]}, "mark": {"type": "line", "color": "black", "strokeWidth": 2.5, "strokeDash": [5, 6]}},
     {"data": {"values": [{"x": 0, "y": 0}, {"x": 2500, "y": 2500}]}, "mark": {"type": "line", "color": "black", "strokeWidth": 3}},
     {"data": {"values": [{"x": 166, "y": 2634, "t": "y = x"}]}, "mark": {"type": "text", "align": "left"}, "encoding": {"text": {"field": "t"}}},
     {"data": {"values": [{"x": 166, "y": 2285, "r": "R", "s": "2", "v": "= 0.88"}]}, "mark": {"type": "text", "align": "left", "fontStyle": "italic"}, "encoding": {"text": {"field": "r"}}},
     {"data": {"values": [{"x": 166, "y": 2285, "r": "R", "s": "2", "v": "= 0.88"}]}, "mark": {"type": "text", "align": "left", "fontSize": 13, "fontWeight": "normal", "dx": 20, "dy": -5}, "encoding": {"text": {"field": "s"}}},
     {"data": {"values": [{"x": 166, "y": 2285, "r": "R", "s": "2", "v": "= 0.88"}]}, "mark": {"type": "text", "align": "left", "dx": 35}, "encoding": {"text": {"field": "v"}}},
     {"data": {"values": [{"x": 2577, "y": 103, "t": "RMSE = 137 kg ha", "s": "-1"}]}, "mark": {"type": "text", "align": "right"}, "encoding": {"text": {"field": "t"}}},
     {"data": {"values": [{"x": 2577, "y": 103, "t": "RMSE = 137 kg ha", "s": "-1"}]}, "mark": {"type": "text", "align": "left", "fontSize": 12, "dy": -7}, "encoding": {"text": {"field": "s"}}}
   ]
  }
 ], "spacing": 126, "bounds": "flush"}
]
}
